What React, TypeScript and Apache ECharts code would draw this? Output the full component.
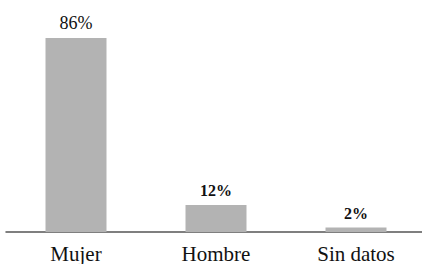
import React, { useEffect, useRef } from "react";
import * as echarts from "echarts";

const categories = ["Mujer", "Hombre", "Sin datos"];
const values = [86, 12, 2];
const labelSizes = [18, 16, 16];
const labelWeights = ["normal", 600, 600];

const SERIF = "serif";

export default function App() {
  const ref = useRef<HTMLDivElement>(null);
  useEffect(() => {
    if (!ref.current) return;
    const chart = echarts.init(ref.current, undefined, { renderer: "svg" });
    chart.setOption({
      animation: false,
      grid: { left: 6, width: 420, top: 38, bottom: 32, outerBoundsMode: "none" },
      xAxis: {
        type: "category",
        data: categories,
        axisLine: { lineStyle: { color: "#555", width: 1.5 } },
        axisTick: { show: false },
        axisLabel: {
          color: "#111",
          fontFamily: SERIF,
          fontSize: 21,
          margin: 11,
        },
      },
      yAxis: {
        type: "value",
        min: 0,
        max: 86,
        show: false,
        splitLine: { show: false },
      },
      series: [
        {
          type: "bar",
          barWidth: 61,
          itemStyle: { color: "#b3b3b3" },
          data: values.map((v, i) => ({
            value: v,
            label: {
              show: true,
              position: "top",
              distance: 6,
              formatter: "{c}%",
              color: "#111",
              fontFamily: SERIF,
              fontSize: labelSizes[i],
              fontWeight: labelWeights[i],
            },
          })),
        },
      ],
    });
    return () => chart.dispose();
  }, []);
  return <div ref={ref} style={{ width: 422, height: 264, position: "absolute", left: 0, top: 0 }} />;
}
